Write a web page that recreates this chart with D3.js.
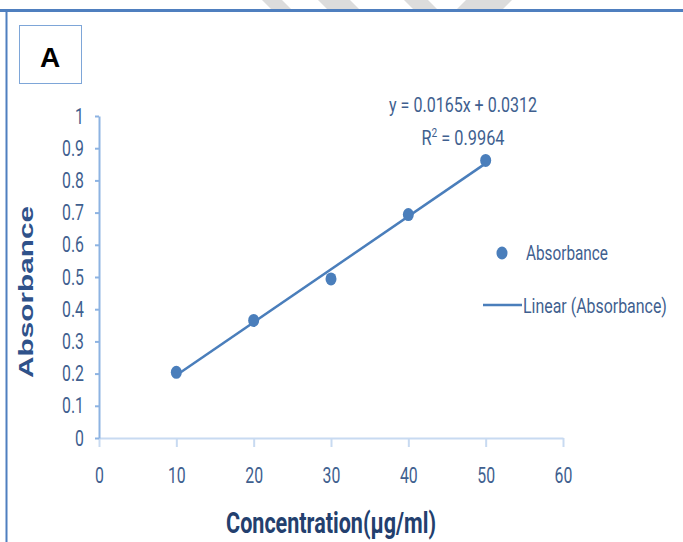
<!DOCTYPE html>
<html>
<head>
<meta charset="utf-8">
<script src="https://cdn.jsdelivr.net/npm/d3@7"></script>
<style>
  body { margin: 0; background: #fff; }
  svg { display: block; }
</style>
</head>
<body>
<div id="chart"></div>
<script>
// data
var concentration = [10, 20, 30, 40, 50];
var absorbance = [0.204, 0.365, 0.494, 0.694, 0.862];
var xTicks = [0, 10, 20, 30, 40, 50, 60];
var yTicks = [0, 0.1, 0.2, 0.3, 0.4, 0.5, 0.6, 0.7, 0.8, 0.9, 1];
var eqText = "y = 0.0165x + 0.0312";
var r2Value = "0.9964";

var W = 683, H = 542;
var narrow = "Roboto, 'Noto Sans', sans-serif";
var markerBlue = "#4a7ebb";
var labelBlue = "#3f5f8f";

// squeeze a text horizontally, either by a factor or to a target width
function squeeze(sel, sx, width) {
    sel.each(function () {
        var t = d3.select(this);
        var k = width ? width / this.getComputedTextLength() : sx;
        var tx = +t.attr("x") || 0, ty = +t.attr("y") || 0;
        t.attr("x", 0).attr("y", 0)
            .attr("transform", (t.attr("transform") || "") + " translate(" + tx + "," + ty + ") scale(" + k + ",1)");
    });
}

var svg = d3.select("#chart").append("svg")
    .attr("width", W)
    .attr("height", H);

svg.append("rect").attr("width", W).attr("height", H).attr("fill", "#fff");

// faint watermark strokes above the frame line
var marks = [[262, 282], [318, 350], [404, 428], [466, 512]];
svg.selectAll(".wm")
    .data(marks)
    .enter().append("path")
    .attr("class", "wm")
    .attr("d", function (d, i) {
        var s = i == 3 ? -1 : 1;
        return "M" + d[0] + ",0 L" + d[1] + ",0 L" + (d[1] + s * 10) + ",10 L" + (d[0] + s * 10) + ",10 Z";
    })
    .attr("fill", "#dcdcdc");

// frame lines
svg.append("line").attr("x1", 0).attr("x2", W).attr("y1", 10.5).attr("y2", 10.5)
    .attr("stroke", "#4f7fbf").attr("stroke-width", 3);
svg.append("line").attr("x1", 6.5).attr("x2", 6.5).attr("y1", 10).attr("y2", H)
    .attr("stroke", "#4f7fbf").attr("stroke-width", 2);

// panel letter
svg.append("rect").attr("x", 19.5).attr("y", 25.5).attr("width", 62).attr("height", 58)
    .attr("fill", "none").attr("stroke", "#7ea6d8").attr("stroke-width", 1);
svg.append("text").attr("x", 50).attr("y", 67)
    .attr("text-anchor", "middle")
    .style("font-family", "'Liberation Sans', Arial, sans-serif")
    .style("font-weight", "bold").style("font-size", "28px")
    .text("A");

var x = d3.scaleLinear().domain([0, 60]).range([99, 563]);
var y = d3.scaleLinear().domain([0, 1]).range([438, 116]);

// x axis
var gx = svg.append("g")
    .attr("transform", "translate(0," + y(0) + ")")
    .call(d3.axisBottom(x).tickValues(xTicks).tickSize(9).tickSizeOuter(0).tickPadding(20));
gx.select(".domain").attr("stroke", "#c8daf1").attr("stroke-width", 2);
gx.selectAll(".tick line").attr("stroke", "#c8daf1").attr("stroke-width", 2);
gx.selectAll(".tick text")
    .attr("fill", labelBlue)
    .style("font-family", narrow).style("font-size", "22px")
    .call(squeeze, 0.72);

// y axis
var gy = svg.append("g")
    .attr("transform", "translate(" + x(0) + ",0)")
    .call(d3.axisLeft(y).tickValues(yTicks).tickSize(4).tickSizeOuter(0).tickPadding(11)
        .tickFormat(function (d) { return String(+d.toFixed(1)); }));
gy.select(".domain").attr("stroke", "#8db3e2").attr("stroke-width", 2);
gy.selectAll(".tick line").attr("stroke", "#8db3e2").attr("stroke-width", 2);
gy.selectAll(".tick text")
    .attr("fill", labelBlue)
    .style("font-family", narrow).style("font-size", "22px")
    .call(squeeze, 0.72);

// least squares trend line from the points
var mx = d3.mean(concentration), my = d3.mean(absorbance);
var sxy = d3.sum(concentration, function (c, i) { return (c - mx) * (absorbance[i] - my); });
var sxx = d3.sum(concentration, function (c) { return (c - mx) * (c - mx); });
var slope = sxy / sxx, icpt = my - slope * mx;
var xr = d3.extent(concentration);

svg.append("line")
    .attr("x1", x(xr[0])).attr("y1", y(slope * xr[0] + icpt))
    .attr("x2", x(xr[1])).attr("y2", y(slope * xr[1] + icpt))
    .attr("stroke", markerBlue).attr("stroke-width", 2.5);

svg.selectAll(".pt")
    .data(concentration)
    .enter().append("ellipse")
    .attr("class", "pt")
    .attr("cx", function (d) { return x(d); })
    .attr("cy", function (d, i) { return y(absorbance[i]); })
    .attr("rx", 5.5).attr("ry", 6.5)
    .attr("fill", markerBlue);

// equation
svg.append("text").attr("x", 463).attr("y", 112)
    .attr("text-anchor", "middle").attr("fill", labelBlue)
    .style("font-family", narrow).style("font-size", "21px")
    .text(eqText)
    .call(squeeze, 0, 148);
var r2 = svg.append("text").attr("x", 463).attr("y", 145)
    .attr("text-anchor", "middle").attr("fill", labelBlue)
    .style("font-family", narrow).style("font-size", "21px");
r2.append("tspan").text("R");
r2.append("tspan").attr("dy", -8).style("font-size", "13px").text("2");
r2.append("tspan").attr("dy", 8).text(" = " + r2Value);
r2.call(squeeze, 0, 83);

// legend
svg.append("ellipse").attr("cx", 502).attr("cy", 253).attr("rx", 5.5).attr("ry", 6.5)
    .attr("fill", markerBlue);
svg.append("text").attr("x", 526).attr("y", 260).attr("fill", labelBlue)
    .style("font-family", narrow).style("font-size", "21px")
    .text("Absorbance")
    .call(squeeze, 0, 82);
svg.append("line").attr("x1", 483).attr("x2", 522).attr("y1", 305).attr("y2", 305)
    .attr("stroke", markerBlue).attr("stroke-width", 2.5);
svg.append("text").attr("x", 523).attr("y", 313).attr("fill", labelBlue)
    .style("font-family", narrow).style("font-size", "21px")
    .text("Linear (Absorbance)")
    .call(squeeze, 0, 144);

// axis titles
svg.append("text").attr("x", 331).attr("y", 533)
    .attr("text-anchor", "middle").attr("fill", "#233f6e")
    .style("font-family", narrow).style("font-weight", "bold").style("font-size", "30px")
    .text("Concentration(µg/ml)")
    .call(squeeze, 0, 210);

svg.append("text")
    .attr("transform", "translate(33,292) rotate(-90)")
    .attr("text-anchor", "middle").attr("fill", "#2f528a")
    .style("font-family", "'Liberation Sans', Arial, sans-serif")
    .style("font-weight", "bold").style("font-size", "21px")
    .text("Absorbance")
    .call(squeeze, 0, 172);
</script>
</body>
</html>
